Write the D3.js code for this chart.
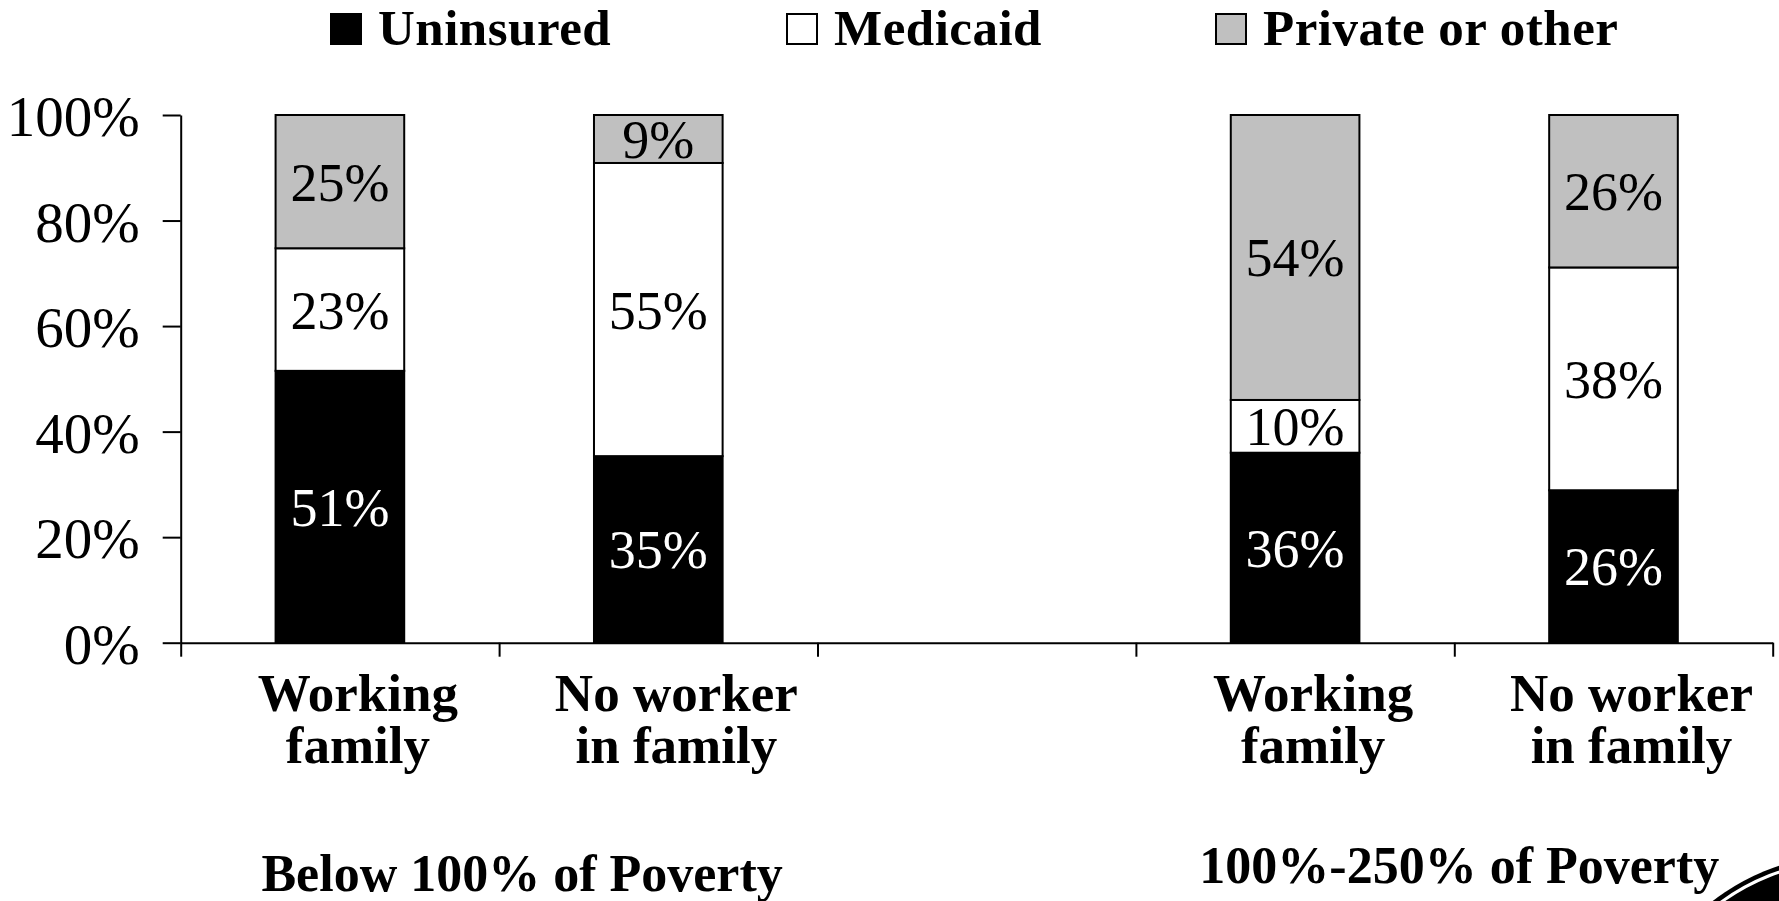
<!DOCTYPE html>
<html><head><meta charset="utf-8">
<script src="https://cdn.jsdelivr.net/npm/d3@7"></script>
<style>html,body{margin:0;padding:0;background:#fff;overflow:hidden}</style>
</head><body><svg id="c" width="1779" height="901"></svg>
<script>
// ---- data ----
const slots = ["below-working", "below-noworker", "gap", "mid-working", "mid-noworker"];
const barSlots = ["below-working", "below-noworker", "mid-working", "mid-noworker"];
const barNames = [["Working", "family"], ["No worker", "in family"], ["Working", "family"], ["No worker", "in family"]];
const seriesNames = ["Uninsured", "Medicaid", "Private or other"];
const uninsured = [51, 35, 36, 26];
const medicaid = [23, 55, 10, 38];
const privateOther = [25, 9, 54, 26];
const groupLabels = ["Below 100% of Poverty", "100%-250% of Poverty"];
const groupSlots = [["below-working", "below-noworker"], ["mid-working", "mid-noworker"]];
const yTickValues = [0, 0.2, 0.4, 0.6, 0.8, 1];
const seriesColors = ["#000000", "#ffffff", "#c0c0c0"];
const labelColors = ["#ffffff", "#000000", "#000000"];

// ---- layout ----
const svg = d3.select("#c");
const X0 = 180.7, X1 = 1772.7, Y0 = 642.7, Y1 = 115;
const serif = "'Liberation Serif','Times New Roman',serif";

const x = d3.scaleBand().domain(slots).range([X0, X1]).paddingInner(0.596).paddingOuter(0.298);
const y = d3.scaleLinear().domain([0, 1]).range([Y0, Y1]);
const xEdge = d3.scaleLinear().domain([0, slots.length]).range([X0, X1]);

const rows = barSlots.map((s, i) => ({slot: s, "Uninsured": uninsured[i], "Medicaid": medicaid[i], "Private or other": privateOther[i]}));
const stacked = d3.stack().keys(seriesNames).offset(d3.stackOffsetExpand)(rows);

// bars
const g = svg.append("g");
stacked.forEach((layer, li) => {
  g.selectAll(null).data(layer).enter().append("rect")
    .attr("x", d => x(d.data.slot))
    .attr("width", x.bandwidth())
    .attr("y", d => y(d[1]))
    .attr("height", d => y(d[0]) - y(d[1]))
    .attr("fill", seriesColors[li])
    .attr("stroke", "#000").attr("stroke-width", 2);
});
stacked.forEach((layer, li) => {
  g.selectAll(null).data(layer).enter().append("text")
    .attr("x", d => x(d.data.slot) + x.bandwidth() / 2)
    .attr("y", d => (y(d[0]) + y(d[1])) / 2 + 19)
    .attr("text-anchor", "middle")
    .style("font-family", serif).style("font-size", "54px")
    .attr("fill", labelColors[li])
    .text(d => d.data[seriesNames[li]] + "%");
});

// y axis
const yAxis = svg.append("g").attr("transform", `translate(${X0},0)`)
  .call(d3.axisLeft(y).tickValues(yTickValues).tickFormat(d3.format(".0%")).tickSize(18).tickSizeOuter(0).tickPadding(23));
yAxis.selectAll("text").style("font-family", serif).style("font-size", "57px").attr("fill", "#000").attr("dy", "0.36em");
yAxis.selectAll("line,path").attr("stroke", "#000").attr("stroke-width", 2);

// x axis
const xAxis = svg.append("g").attr("transform", `translate(0,${Y0})`)
  .call(d3.axisBottom(xEdge).tickValues(d3.range(slots.length + 1)).tickFormat("").tickSize(14).tickSizeOuter(0));
xAxis.selectAll("line,path").attr("stroke", "#000").attr("stroke-width", 2);

// category labels
barSlots.forEach((s, i) => {
  const t = svg.append("text")
    .attr("text-anchor", "middle")
    .style("font-family", serif).style("font-weight", "bold").style("font-size", "53px")
    .attr("fill", "#000");
  barNames[i].forEach((line, k) => {
    t.append("tspan").attr("x", x(s) + x.bandwidth() / 2 + 18).attr("y", 711 + k * 52).text(line);
  });
});

// group labels
const groupDx = [23, 5], groupY = [891, 883];
groupLabels.forEach((lab, i) => {
  const cx = (x(groupSlots[i][0]) + x(groupSlots[i][1]) + x.bandwidth()) / 2;
  svg.append("text").attr("x", cx + groupDx[i]).attr("y", groupY[i])
    .attr("text-anchor", "middle")
    .style("font-family", serif).style("font-weight", "bold").style("font-size", "52px")
    .text(lab);
});

// legend
const legendX = [330, 786, 1215];
seriesNames.forEach((n, i) => {
  const lg = svg.append("g").attr("transform", `translate(${legendX[i]},13)`);
  lg.append("rect").attr("x", 1).attr("y", 1).attr("width", 30).attr("height", 30)
    .attr("fill", seriesColors[i]).attr("stroke", "#000").attr("stroke-width", 2);
  lg.append("text").attr("x", 48).attr("y", 32)
    .style("font-family", serif).style("font-weight", "bold").style("font-size", "51px")
    .style("letter-spacing", "0.5px")
    .text(n);
});

// corner logo fragment
svg.append("circle").attr("cx", 1851).attr("cy", 1081).attr("r", 227).attr("fill", "#000");
svg.append("circle").attr("cx", 1851).attr("cy", 1081).attr("r", 221).attr("fill", "#000")
  .attr("stroke", "#fff").attr("stroke-width", 3);
</script>
</body></html>
